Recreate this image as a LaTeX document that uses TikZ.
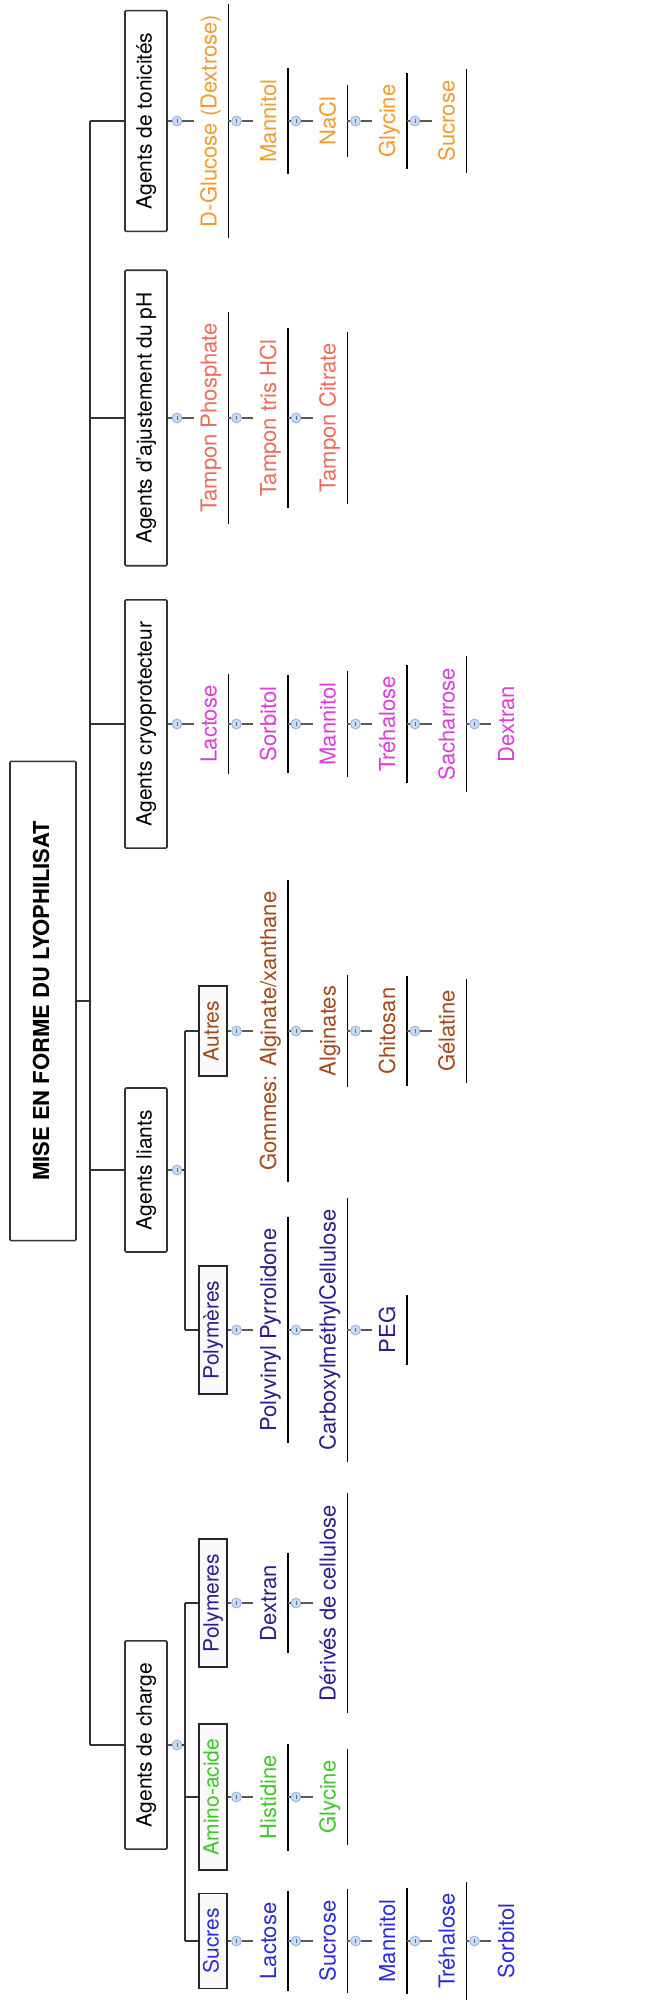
\documentclass[tikz,border=0pt]{standalone}
\usepackage{fontspec}
\setmainfont{TeX Gyre Heros}
\usepackage{tikz}
\usetikzlibrary{positioning}
\definecolor{SugarBlue}{HTML}{2A2ADB}
\definecolor{AminoGreen}{HTML}{3FC62A}
\definecolor{PolyIndigo}{HTML}{2E1C8C}
\definecolor{OtherBrown}{HTML}{A4471C}
\definecolor{CryoMagenta}{HTML}{DE3BDE}
\definecolor{PhSalmon}{HTML}{EE6A5A}
\definecolor{TonicOrange}{HTML}{F29A2E}
\definecolor{KnobFill}{HTML}{C9DCF5}
\definecolor{KnobDraw}{HTML}{93B3E3}
\tikzset{
  rootbox/.style={draw=black!80,fill=white,rotate=90,line width=0.8pt,rounded corners=0.6pt,
    font=\fontsize{11}{13}\selectfont\bfseries,text height=8.5pt,text depth=2.5pt,
    inner xsep=30pt,inner ysep=11pt},
  catbox/.style={draw=black!80,fill=white,rotate=90,line width=0.8pt,rounded corners=0.6pt,
    font=\fontsize{10.5}{12}\selectfont,text height=8pt,text depth=2.5pt,
    inner xsep=11pt,inner ysep=5.25pt},
  subbox/.style={draw=black!85,fill=black!2,rotate=90,line width=0.9pt,
    font=\fontsize{10.5}{12}\selectfont,text height=8pt,text depth=2.5pt,
    inner xsep=7.5pt,inner ysep=1.75pt},
  leaf/.style={rotate=90,font=\fontsize{11}{13}\selectfont,text height=8pt,text depth=2.5pt,
    inner xsep=5.5pt,inner ysep=3.25pt},
  knob/.style={circle,minimum size=4.9pt,inner sep=0pt,fill=KnobFill,draw=KnobDraw,line width=0.45pt,
    path picture={\draw[KnobDraw!60!black,line width=0.3pt]
      ([yshift=-1pt]path picture bounding box.center) -- ([yshift=1pt]path picture bounding box.center);}},
  branch/.style={draw=black!80,line width=0.75pt},
  twig/.style={draw=black!65,line width=0.8pt},
  uline/.style={draw=black,line width=0.9pt},
}
% one chain of leaves: name, parent, y, first column, colour, items
\newcommand{\leafchain}[6]{%
  \foreach \t [count=\i from #4] in {#6} {
    \pgfmathsetmacro{\cx}{211+59.5*\i}
    \pgfmathtruncatemacro{\j}{\i-1}
    \node[knob] (#1k\i) at (\cx-34,#3) {};
    \node[leaf,text=#5] (#1\i) at (\cx,#3) {\t};
    \ifnum\i=#4 \draw[twig] (#2.south) -- (#1k\i); \else \draw[twig] (#1\j.south) -- (#1k\i); \fi
    \draw[twig] (#1k\i) -- (#1\i.north);
    \ifnum\i<5 \draw[uline] (#1\i.south west) -- (#1\i.south east); \fi
  }%
}
\begin{document}
\begin{tikzpicture}[x=0.5pt,y=-0.5pt]
  \useasboundingbox (0,0) rectangle (671,2000);
  % root and trunk
  \node[rootbox] (root) at (43,1001) {MISE EN FORME DU LYOPHILISAT};
  \coordinate (trunk) at (90,1001);
  \node[catbox] (tonic) at (146,121) {Agents de tonicités};
  \node[catbox] (ph) at (146,418) {Agents d'ajustement du pH};
  \node[catbox] (cryo) at (146,724) {Agents cryoprotecteur};
  \node[catbox] (liants) at (146,1170) {Agents liants};
  \node[catbox] (charge) at (146,1745) {Agents de charge};
  \draw[branch] (root.south) -- (trunk);
  \draw[branch] (trunk |- tonic) -- (trunk |- charge);
  \foreach \b in {tonic,ph,cryo,liants,charge}
    \draw[branch] (trunk |- \b) -- (\b.north);

  % simple chains
  \leafchain{to}{tonic}{121}{0}{TonicOrange}{D-Glucose (Dextrose),Mannitol,NaCl,Glycine,Sucrose}
  \leafchain{pa}{ph}{418}{0}{PhSalmon}{Tampon Phosphate,Tampon tris HCl,Tampon Citrate}
  \leafchain{cr}{cryo}{724}{0}{CryoMagenta}{Lactose,Sorbitol,Mannitol,Tréhalose,Sacharrose,Dextran}

  % Agents liants
  \node[knob] (liantsk) at (177,1170) {};
  \coordinate (liantsfork) at (185,1170);
  \node[subbox,text=OtherBrown] (autres) at (213,1031) {Autres};
  \node[subbox,text=PolyIndigo] (polyl) at (213,1330) {Polymères};
  \draw[twig] (liants.south) -- (liantsk);
  \draw[branch] (liantsk) -- (liantsfork);
  \draw[branch] (liantsfork |- autres) -- (liantsfork |- polyl);
  \foreach \s in {autres,polyl}
    \draw[branch] (liantsfork |- \s) -- (\s.north);
  \leafchain{au}{autres}{1031}{1}{OtherBrown}{Gommes: Alginate/xanthane,Alginates,Chitosan,Gélatine}
  \leafchain{pl}{polyl}{1330}{1}{PolyIndigo}{Polyvinyl Pyrrolidone,CarboxylméthylCellulose,PEG}

  % Agents de charge
  \node[knob] (chargek) at (177,1745) {};
  \coordinate (chargefork) at (185,1745);
  \node[subbox,text=SugarBlue] (sucres) at (213,1941) {Sucres};
  \node[subbox,text=AminoGreen] (amino) at (213,1797) {Amino-acide};
  \node[subbox,text=PolyIndigo] (polyc) at (213,1603) {Polymeres};
  \draw[twig] (charge.south) -- (chargek);
  \draw[branch] (chargek) -- (chargefork);
  \draw[branch] (chargefork |- polyc) -- (chargefork |- sucres);
  \foreach \s in {sucres,amino,polyc}
    \draw[branch] (chargefork |- \s) -- (\s.north);
  \leafchain{su}{sucres}{1941}{1}{SugarBlue}{Lactose,Sucrose,Mannitol,Tréhalose,Sorbitol}
  \leafchain{am}{amino}{1797}{1}{AminoGreen}{Histidine,Glycine}
  \leafchain{pc}{polyc}{1603}{1}{PolyIndigo}{Dextran,Dérivés de cellulose}
\end{tikzpicture}
\end{document}
